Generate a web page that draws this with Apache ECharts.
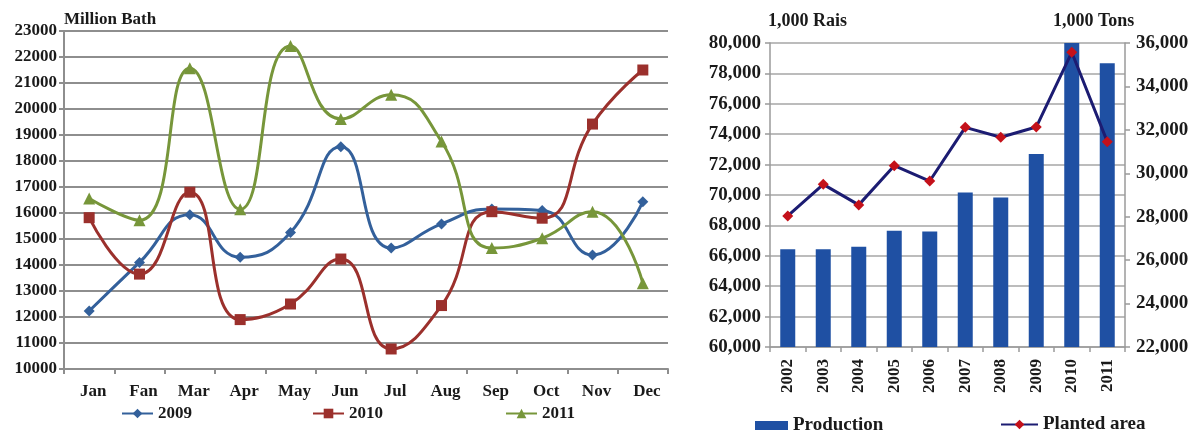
<!DOCTYPE html>
<html>
<head>
<meta charset="utf-8">
<script src="https://cdn.jsdelivr.net/npm/echarts@6/dist/echarts.min.js"></script>
<style>
  html, body { margin: 0; padding: 0; background: #ffffff; }
  #chart { width: 1200px; height: 433px; }
</style>
</head>
<body>
<div id="chart"></div>
<script>
// Monthly values, million baht
const months = ['Jan', 'Fan', 'Mar', 'Apr', 'May', 'Jun', 'Jul', 'Aug', 'Sep', 'Oct', 'Nov', 'Dec'];
const value2009 = [12230, 14100, 15930, 14300, 15250, 18550, 14650, 15580, 16150, 16100, 14380, 16430];
const value2010 = [15820, 13650, 16800, 11900, 12500, 14230, 10770, 12440, 16050, 15800, 19420, 21500];
const value2011 = [16560, 15720, 21570, 16140, 22420, 19620, 20550, 18750, 14650, 15030, 16050, 13300];

// Yearly production (1,000 tons) and planted area (1,000 rai)
const years = ['2002', '2003', '2004', '2005', '2006', '2007', '2008', '2009', '2010', '2011'];
const production = [26500, 26500, 26620, 27350, 27320, 29120, 28880, 30890, 36000, 35070];
const plantedArea = [68620, 70700, 69350, 71930, 70920, 74450, 73800, 74470, 79390, 73510];

const FONT = "'Liberation Serif', 'Times New Roman', serif";
const INK = '#1a1a1a';
const GRID_GRAY = '#8e8e8e';
const RIGHT_GRAY = '#9a9a9a';

const chart = echarts.init(document.getElementById('chart'), null, { renderer: 'canvas' });

const boldText = (size) => ({ fontFamily: FONT, fontWeight: 'bold', fontSize: size, color: INK });
const withCommas = (v) => v.toLocaleString('en-US');

const monthLine = (name, data, color, symbol, size) => ({
  name: name,
  type: 'line',
  xAxisIndex: 0,
  yAxisIndex: 0,
  data: data,
  smooth: 0.5,
  symbol: symbol,
  symbolSize: size,
  showSymbol: true,
  lineStyle: { color: color, width: 3 },
  itemStyle: { color: color },
  z: 3
});

const singleLegend = (item, left, top, w, h, size) => ({
  data: [item], left: left, top: top, padding: 0,
  itemWidth: w, itemHeight: h, itemGap: 5, textStyle: boldText(size)
});

const option = {
  backgroundColor: '#ffffff',
  animation: false,
  title: [
    { text: 'Million Bath', left: 64, top: 11, padding: 0, textStyle: boldText(17) },
    { text: '1,000 Rais', left: 768, top: 12, padding: 0, textStyle: boldText(18) },
    { text: '1,000 Tons', left: 1053, top: 12, padding: 0, textStyle: boldText(18) }
  ],
  legend: [
    singleLegend('2009', 121, 405, 31, 12, 17),
    singleLegend('2010', 312, 405, 31, 12, 17),
    singleLegend('2011', 505, 405, 31, 12, 17),
    singleLegend({ name: 'Production', icon: 'rect' }, 755, 416, 33, 9, 19),
    singleLegend('Planted area', 1000, 415, 37, 12, 19)
  ],
  grid: [
    { left: 64, top: 31, width: 604, height: 338 },
    { left: 770, top: 43, width: 355, height: 304 }
  ],
  xAxis: [
    {
      type: 'category',
      gridIndex: 0,
      data: months,
      boundaryGap: true,
      axisLine: { show: true, lineStyle: { color: GRID_GRAY, width: 2 } },
      axisTick: { show: true, alignWithLabel: false, length: 5, lineStyle: { color: GRID_GRAY, width: 2 } },
      axisLabel: Object.assign({ margin: 14, interval: 0, padding: [0, 0, 0, 8] }, boldText(17)),
      splitLine: { show: false }
    },
    {
      type: 'category',
      gridIndex: 1,
      data: years,
      boundaryGap: true,
      axisLine: { show: true, lineStyle: { color: RIGHT_GRAY, width: 1.5 } },
      axisTick: { show: true, alignWithLabel: false, length: 5, lineStyle: { color: RIGHT_GRAY, width: 1.5 } },
      axisLabel: Object.assign({ margin: 12, rotate: 90, interval: 0 }, boldText(17)),
      splitLine: { show: false }
    }
  ],
  yAxis: [
    {
      type: 'value',
      gridIndex: 0,
      min: 10000,
      max: 23000,
      interval: 1000,
      axisLine: { show: true, lineStyle: { color: GRID_GRAY, width: 2 } },
      axisTick: { show: true, length: 5, lineStyle: { color: GRID_GRAY, width: 2 } },
      axisLabel: Object.assign({ margin: 7, formatter: (v) => String(v) }, boldText(17)),
      splitLine: { show: true, lineStyle: { color: GRID_GRAY, width: 2 } }
    },
    {
      type: 'value',
      gridIndex: 1,
      position: 'left',
      min: 60000,
      max: 80000,
      interval: 2000,
      axisLine: { show: true, lineStyle: { color: RIGHT_GRAY, width: 1.5 } },
      axisTick: { show: true, length: 5, lineStyle: { color: RIGHT_GRAY, width: 1.5 } },
      axisLabel: Object.assign({ margin: 9, formatter: withCommas }, boldText(19)),
      splitLine: { show: true, lineStyle: { color: '#a6a6a6', width: 1.5 } }
    },
    {
      type: 'value',
      gridIndex: 1,
      position: 'right',
      min: 22000,
      max: 36000,
      interval: 2000,
      axisLine: { show: true, lineStyle: { color: RIGHT_GRAY, width: 1.5 } },
      axisTick: { show: true, length: 5, lineStyle: { color: RIGHT_GRAY, width: 1.5 } },
      axisLabel: Object.assign({ margin: 11, formatter: withCommas }, boldText(19)),
      splitLine: { show: false }
    }
  ],
  series: [
    monthLine('2009', value2009, '#33609b', 'diamond', 11),
    monthLine('2010', value2010, '#9b302c', 'rect', 11),
    monthLine('2011', value2011, '#77963a', 'triangle', 12),
    {
      name: 'Production',
      type: 'bar',
      xAxisIndex: 1,
      yAxisIndex: 2,
      data: production,
      barWidth: 15,
      itemStyle: { color: '#1f50a3' },
      z: 2
    },
    {
      name: 'Planted area',
      type: 'line',
      xAxisIndex: 1,
      yAxisIndex: 1,
      data: plantedArea,
      symbol: 'diamond',
      symbolSize: 11,
      lineStyle: { color: '#1c1c72', width: 3 },
      itemStyle: { color: '#c4111a' },
      z: 4
    }
  ]
};

chart.setOption(option);
</script>
</body>
</html>
